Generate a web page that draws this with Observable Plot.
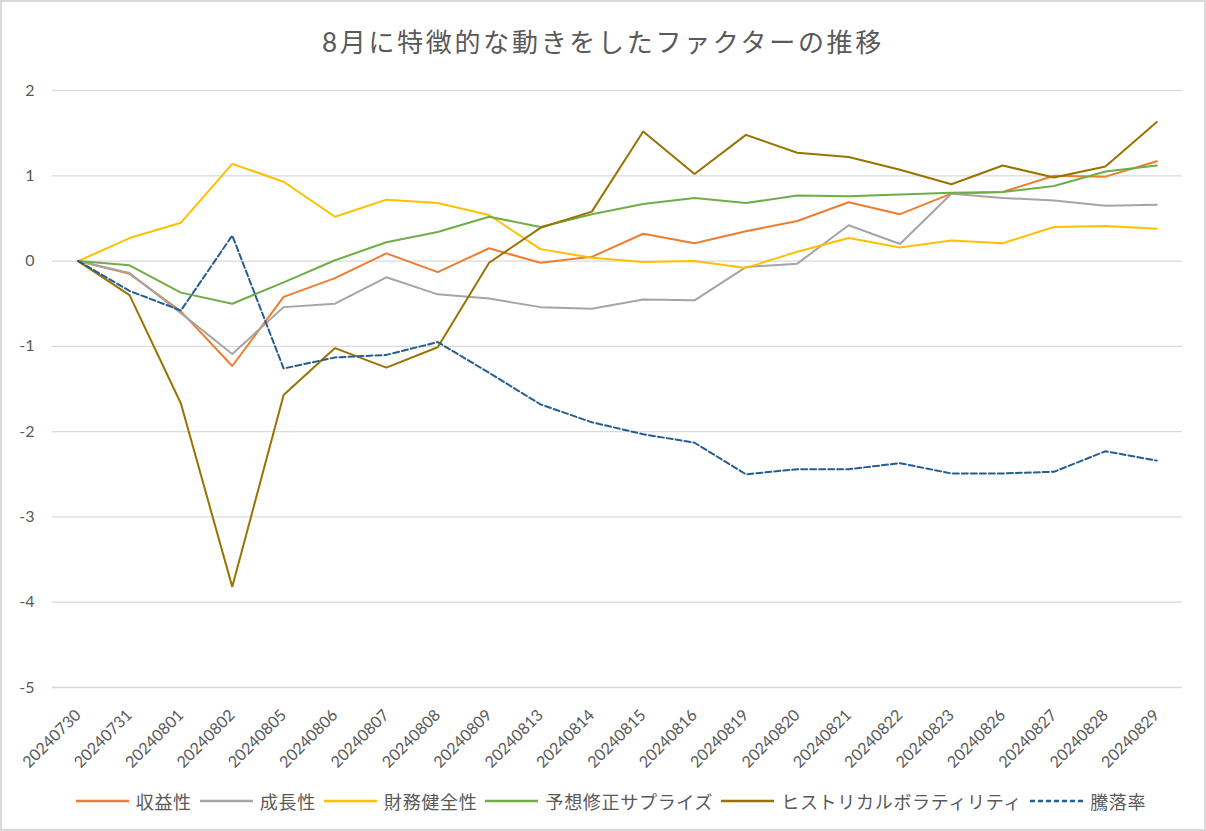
<!DOCTYPE html>
<html>
<head>
<meta charset="utf-8">
<script src="https://cdn.jsdelivr.net/npm/d3@7"></script>
<script src="https://cdn.jsdelivr.net/npm/@observablehq/plot@0.6"></script>
<style>
  body { margin: 0; background: #fff; }
  #wrap { position: relative; width: 1206px; height: 831px; background: #fff; overflow: hidden;
          font-family: Lato, "Noto Sans CJK JP", sans-serif; color: #595959; }
  #title { position: absolute; left: 0; top: 27px; width: 1206px; height: 30px; line-height: 30px;
           text-align: center; font-size: 26px; letter-spacing: 2.7px; color: #595959; }
  #chart { position: absolute; left: 0; top: 70px; }
  #legend { position: absolute; left: 12px; top: 786px; width: 1206px; height: 30px; display: flex;
            justify-content: center; align-items: center; font-size: 18px; letter-spacing: 0.7px; color: #595959; }
  #legend .sw { display: block; margin-right: 7px; }
  #legend .lb { margin-right: 8px; white-space: nowrap; }
  #border { position: absolute; left: 0; top: 0; width: 1206px; height: 831px; box-sizing: border-box;
            border: 2px solid #d9d9d9; pointer-events: none; }
</style>
</head>
<body>
<div id="wrap">
  <div id="title">8月に特徴的な動きをしたファクターの推移</div>
  <div id="chart"></div>
  <div id="legend"></div>
  <div id="border"></div>
</div>
<script>
const dates = ["20240730","20240731","20240801","20240802","20240805","20240806","20240807","20240808","20240809","20240813","20240814","20240815","20240816","20240819","20240820","20240821","20240822","20240823","20240826","20240827","20240828","20240829"];

const seriesNames = ["収益性","成長性","財務健全性","予想修正サプライズ","ヒストリカルボラティリティ","騰落率"];
const seriesColors = ["#ED7D31","#A5A5A5","#FFC000","#70AD47","#997300","#255E91"];

const profitability = [0,-0.15,-0.59,-1.23,-0.42,-0.20,0.09,-0.13,0.15,-0.02,0.05,0.32,0.21,0.35,0.47,0.69,0.55,0.79,0.81,1.00,0.99,1.17];
const growth        = [0,-0.14,-0.61,-1.09,-0.54,-0.50,-0.19,-0.39,-0.44,-0.54,-0.56,-0.45,-0.46,-0.07,-0.03,0.42,0.20,0.79,0.74,0.71,0.65,0.66];
const financial     = [0,0.27,0.45,1.14,0.93,0.52,0.72,0.68,0.54,0.14,0.04,-0.01,0.00,-0.08,0.11,0.27,0.16,0.24,0.21,0.40,0.41,0.38];
const surprise      = [0,-0.05,-0.37,-0.50,-0.25,0.01,0.22,0.34,0.52,0.40,0.55,0.67,0.74,0.68,0.77,0.76,0.78,0.80,0.81,0.88,1.05,1.12];
const volatility    = [0,-0.40,-1.67,-3.82,-1.57,-1.02,-1.25,-1.01,-0.02,0.39,0.58,1.52,1.02,1.48,1.27,1.22,1.07,0.90,1.12,0.98,1.11,1.63];
const returns       = [0,-0.35,-0.58,0.30,-1.26,-1.13,-1.10,-0.95,-1.31,-1.68,-1.89,-2.03,-2.13,-2.50,-2.44,-2.44,-2.37,-2.49,-2.49,-2.47,-2.23,-2.34];

const yTicks = [-5,-4,-3,-2,-1,0,1,2];

const seriesValues = [profitability, growth, financial, surprise, volatility, returns];
const tables = seriesValues.map((vals, i) => dates.map((d, j) => ({date: d, value: vals[j], series: seriesNames[i]})));

const lineMarks = tables.map((t, i) => Plot.line(t, {
  x: "date", y: "value",
  stroke: seriesColors[i],
  strokeWidth: 2,
  strokeDasharray: seriesNames[i] === "騰落率" ? "6,3" : null,
  strokeLinejoin: "miter"
}));

const chart = Plot.plot({
  width: 1206,
  height: 715,
  marginLeft: 52,
  marginRight: 24,
  marginTop: 20,
  marginBottom: 98,
  style: {fontFamily: 'Lato, "Noto Sans CJK JP", sans-serif', fontSize: "16px", color: "#595959", background: "transparent"},
  x: {type: "point", domain: dates, padding: 0.5, round: false, label: null},
  y: {domain: [-5, 2], label: null},
  marks: [
    Plot.ruleY(yTicks, {stroke: "#d9d9d9", strokeWidth: 1.3}),
    Plot.axisY(yTicks, {tickSize: 0, tickPadding: 18, fontSize: 16, tickFormat: d => String(d), label: null}),
    Plot.axisX({tickRotate: -45, tickSize: 0, tickPadding: 25, fontSize: 16, label: null, dx: 0}),
    ...lineMarks
  ]
});
document.getElementById("chart").appendChild(chart);

const legend = document.getElementById("legend");
seriesNames.forEach((name, i) => {
  const ns = "http://www.w3.org/2000/svg";
  const svg = document.createElementNS(ns, "svg");
  svg.setAttribute("width", 53); svg.setAttribute("height", 10); svg.setAttribute("class", "sw");
  const ln = document.createElementNS(ns, "line");
  ln.setAttribute("x1", 0); ln.setAttribute("x2", 53); ln.setAttribute("y1", 5); ln.setAttribute("y2", 5);
  ln.setAttribute("stroke", seriesColors[i]); ln.setAttribute("stroke-width", 2.5);
  if (name === "騰落率") ln.setAttribute("stroke-dasharray", "5,3");
  svg.appendChild(ln);
  const lb = document.createElement("span");
  lb.className = "lb"; lb.textContent = name;
  legend.appendChild(svg); legend.appendChild(lb);
});
</script>
</body>
</html>
